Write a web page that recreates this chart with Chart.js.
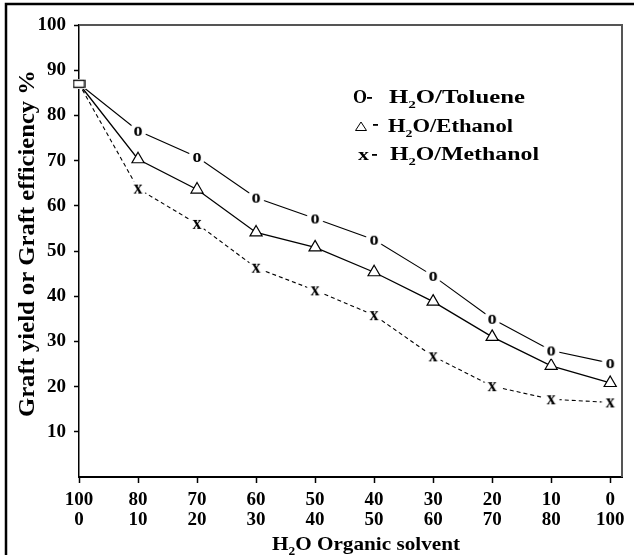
<!DOCTYPE html>
<html>
<head>
<meta charset="utf-8">
<script src="https://cdn.jsdelivr.net/npm/chart.js@4/dist/chart.umd.min.js"></script>
<style>
  html, body { margin: 0; padding: 0; background: #fff; }
</style>
</head>
<body>
<canvas id="chart" width="634" height="555"></canvas>
<script>
// Datos
const waterLabels = ['100', '80', '70', '60', '50', '40', '30', '20', '10', '0'];
const organicLabels = ['0', '10', '20', '30', '40', '50', '60', '70', '80', '100'];
const toluene = [87, 76.6, 70.8, 61.8, 57.2, 52.5, 44.5, 35, 28, 25.2];
const ethanol = [87, 70.3, 63.6, 54.1, 50.8, 45.3, 38.8, 31, 24.6, 20.8];
const methanol = [87, 63.8, 56, 46.3, 41.3, 35.8, 26.7, 20.1, 17.2, 16.5];
const yTicks = [10, 20, 30, 40, 50, 60, 70, 80, 90, 100];

const SERIF = '"Liberation Serif", "DejaVu Serif", serif';

// marcador de texto con fondo blanco (corta la linea)
function glyphMarker(ch) {
  const c = document.createElement('canvas');
  c.width = 18; c.height = 18;
  const g = c.getContext('2d');
  g.fillStyle = '#fff';
  g.beginPath();
  g.arc(9, 9, 8.5, 0, Math.PI * 2);
  g.fill();
  g.fillStyle = '#000';
  g.font = 'bold 18px ' + SERIF;
  g.textAlign = 'center';
  g.textBaseline = 'alphabetic';
  const m = g.measureText(ch);
  const asc = m.actualBoundingBoxAscent, desc = m.actualBoundingBoxDescent;
  g.fillText(ch, 9, 9 + (asc - desc) / 2);
  return c;
}

function squareMarker() {
  const c = document.createElement('canvas');
  c.width = 13; c.height = 10;
  const g = c.getContext('2d');
  g.fillStyle = '#fff';
  g.fillRect(0, 0, 13, 10);
  g.strokeStyle = '#000';
  g.lineWidth = 1.3;
  g.strokeRect(1, 1.5, 11, 7);
  return c;
}

const oImg = glyphMarker('o');
const xImg = glyphMarker('x');
const sqImg = squareMarker();

const toPoints = arr => arr.map((v, i) => ({ x: i, y: v }));

// texto con subindice (H2O); si draw es false solo mide
function richText(ctx, parts, x, y, size, draw) {
  let cx = x;
  parts.forEach(p => {
    if (p.sub) {
      ctx.font = 'bold ' + Math.round(size * 0.62) + 'px ' + SERIF;
      if (draw) ctx.fillText(p.t, cx, y + size * 0.28);
    } else {
      ctx.font = 'bold ' + size + 'px ' + SERIF;
      if (draw) ctx.fillText(p.t, cx, y);
    }
    cx += ctx.measureText(p.t).width;
  });
  return cx - x;
}

// dibuja estirado a un ancho dado
function fitText(ctx, parts, x, y, size, width) {
  const w = richText(ctx, parts, 0, 0, size, false);
  ctx.save();
  ctx.translate(x, y);
  ctx.scale(width / w, 1);
  richText(ctx, parts, 0, 0, size, true);
  ctx.restore();
}

const decor = {
  id: 'decor',
  afterDraw(chart) {
    const ctx = chart.ctx;
    const a = chart.chartArea;
    ctx.save();

    // marco exterior (arriba e izquierda)
    ctx.strokeStyle = '#000';
    ctx.lineWidth = 2.5;
    ctx.beginPath();
    ctx.moveTo(634, 4);
    ctx.lineTo(6, 4);
    ctx.lineTo(6, 555);
    ctx.stroke();

    // bordes superior y derecho del area
    ctx.strokeStyle = '#555';
    ctx.lineWidth = 2;
    ctx.beginPath();
    ctx.moveTo(a.left, a.top);
    ctx.lineTo(a.right, a.top);
    ctx.lineTo(a.right, a.bottom);
    ctx.stroke();

    ctx.fillStyle = '#000';
    ctx.textBaseline = 'alphabetic';
    ctx.textAlign = 'left';

    // leyenda
    fitText(ctx, [{ t: 'O' }], 353, 103, 18, 14);
    ctx.fillRect(367, 97, 5, 1.8);
    ctx.lineWidth = 1;
    ctx.strokeStyle = '#000';
    ctx.beginPath();
    ctx.moveTo(355.5, 130.5);
    ctx.lineTo(366.5, 130.5);
    ctx.lineTo(361, 122);
    ctx.closePath();
    ctx.stroke();
    ctx.fillRect(373, 124, 5, 1.8);
    fitText(ctx, [{ t: 'x' }], 358, 160, 17, 11);
    ctx.fillRect(372, 154, 5, 1.8);

    fitText(ctx, [{ t: 'H' }, { t: '2', sub: true }, { t: 'O/Toluene' }], 389, 103, 18, 136);
    fitText(ctx, [{ t: 'H' }, { t: '2', sub: true }, { t: 'O/Ethanol' }], 388, 131.5, 18, 125);
    fitText(ctx, [{ t: 'H' }, { t: '2', sub: true }, { t: 'O/Methanol' }], 390, 160, 18, 149);

    // titulo eje x
    fitText(ctx, [{ t: 'H' }, { t: '2', sub: true }, { t: 'O Organic solvent' }], 272, 550, 19, 188);

    // titulo eje y
    ctx.translate(34, 244);
    ctx.rotate(-Math.PI / 2);
    fitText(ctx, [{ t: 'Graft yield or Graft efficiency %' }], -173, 0, 23, 347);

    ctx.restore();
  }
};

const ctx = document.getElementById('chart').getContext('2d');

const config = {
  type: 'line',
  data: {
    datasets: [
      {
        label: 'H2O/Toluene',
        data: toPoints(toluene),
        borderColor: '#000',
        borderWidth: 1.1,
        pointStyle: toluene.map((v, i) => i === 0 ? sqImg : oImg),
        pointRadius: 8,
        clip: false
      },
      {
        label: 'H2O/Ethanol',
        data: toPoints(ethanol),
        borderColor: '#000',
        borderWidth: 1.3,
        pointStyle: ethanol.map((v, i) => i === 0 ? sqImg : 'triangle'),
        pointRadius: 7,
        pointBackgroundColor: '#fff',
        pointBorderColor: '#000',
        pointBorderWidth: 1.2,
        clip: false
      },
      {
        label: 'H2O/Methanol',
        data: toPoints(methanol),
        borderColor: '#000',
        borderWidth: 1.1,
        borderDash: [4, 3],
        pointStyle: methanol.map((v, i) => i === 0 ? sqImg : xImg),
        pointRadius: 8,
        clip: false
      }
    ]
  },
  options: {
    responsive: false,
    animation: false,
    layout: { padding: { top: 25, right: 12, left: 0, bottom: 0 } },
    plugins: {
      legend: { display: false },
      tooltip: { enabled: false }
    },
    scales: {
      x: {
        type: 'linear',
        min: 0,
        max: 9.2,
        afterFit(scale) { scale.height = 78; },
        afterBuildTicks(scale) {
          scale.ticks = waterLabels.map((l, i) => ({ value: i }));
        },
        ticks: {
          color: '#000',
          padding: 7,
          autoSkip: false,
          maxRotation: 0,
          font: { family: SERIF, size: 19, weight: 'bold', lineHeight: 1.05 },
          callback: (v) => [waterLabels[v], organicLabels[v]]
        },
        grid: { drawOnChartArea: false, tickLength: 6, tickColor: '#000', tickWidth: 1.5 },
        border: { color: '#000', width: 2 }
      },
      y: {
        min: 0,
        max: 100,
        afterFit(scale) { scale.width = 79; },
        afterBuildTicks(scale) {
          scale.ticks = yTicks.map(v => ({ value: v }));
        },
        ticks: {
          color: '#000',
          padding: 8,
          font: { family: SERIF, size: 19, weight: 'bold' }
        },
        grid: { drawOnChartArea: false, tickLength: 5, tickColor: '#000', tickWidth: 1.5 },
        border: { color: '#000', width: 1.5 }
      }
    }
  },
  plugins: [decor]
};

const chart = new Chart(ctx, config);
</script>
</body>
</html>
